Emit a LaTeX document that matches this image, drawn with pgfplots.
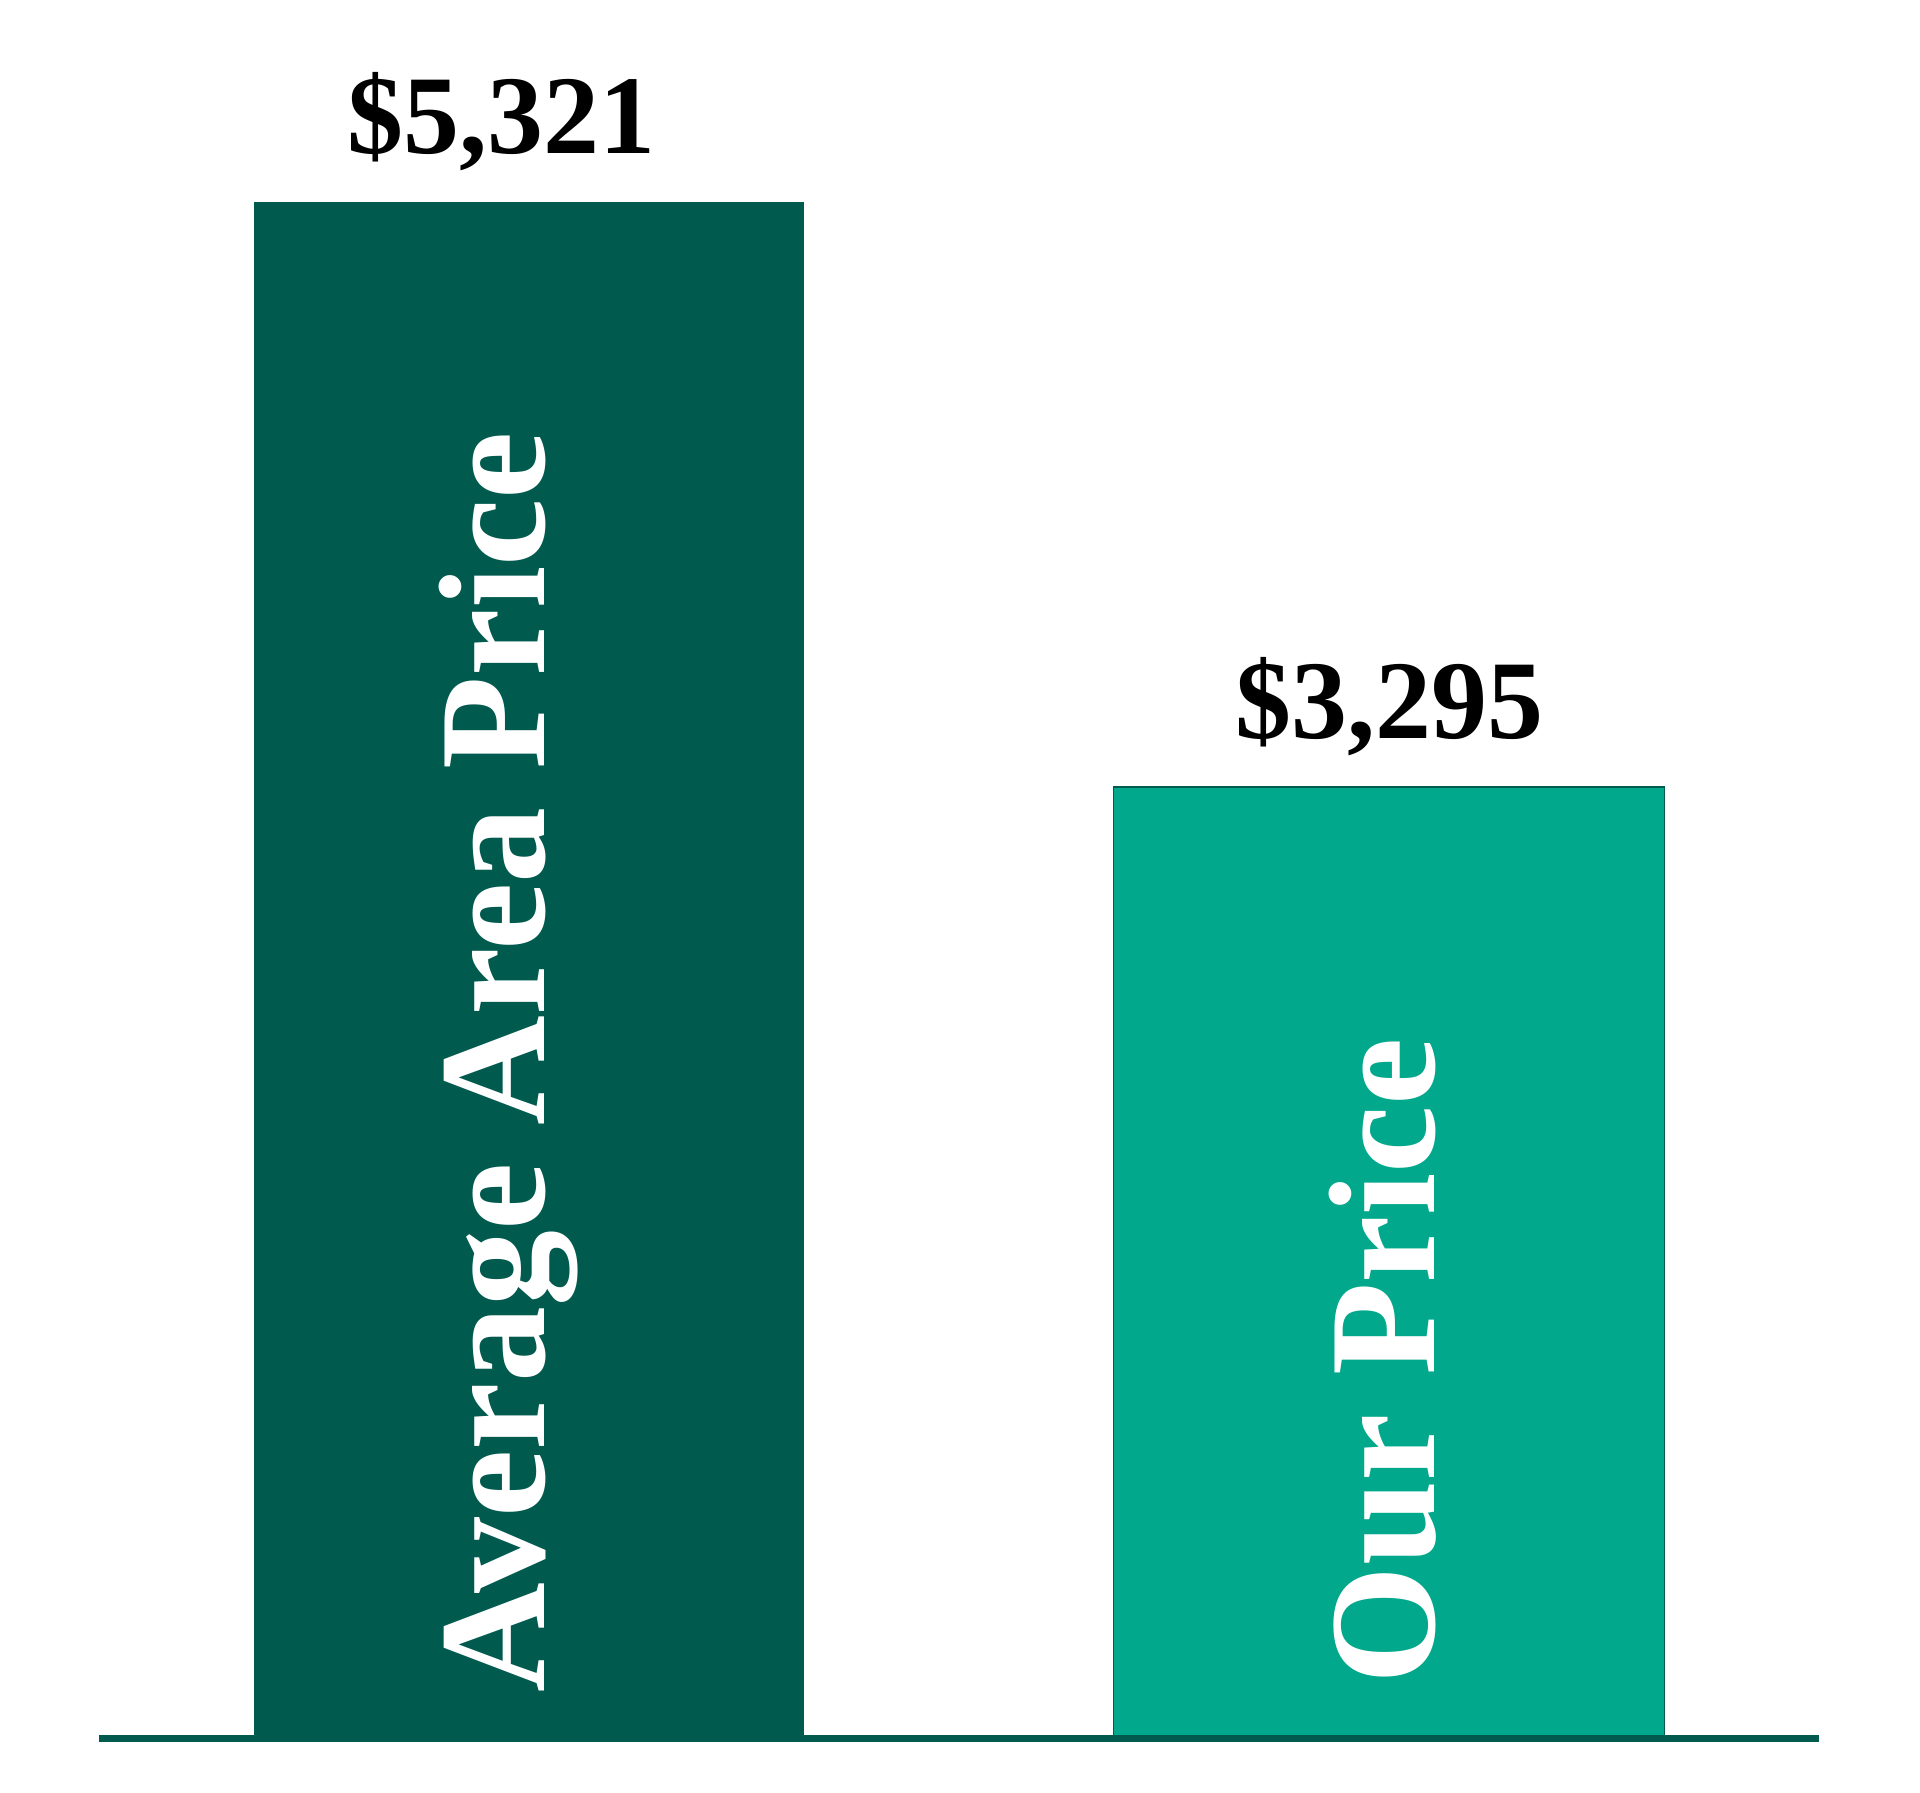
\documentclass[border=0pt]{standalone}
\usepackage{fontspec}
\setmainfont{Liberation Serif}
\usepackage{pgfplots}
\pgfplotsset{compat=1.18}
\definecolor{darkgreen}{HTML}{005A4E}
\definecolor{tealgreen}{HTML}{02A88C}
\begin{document}
\begin{tikzpicture}
\useasboundingbox (-24.75pt,-13.4pt) rectangle (455.25pt,434.6pt);
\begin{axis}[
    at={(0,0)}, anchor=south west,
    scale only axis,
    width=430pt, height=434.6pt,
    xmin=-0.5, xmax=1.5,
    ymin=0, ymax=6020,
    axis x line=bottom,
    axis y line=none,
    x axis line style={-, draw=darkgreen, line width=1.6pt},
    xtick=\empty, ytick=\empty,
    axis on top,
    ybar, bar width=0.64, bar shift=0pt,
    nodes near coords,
    point meta=explicit symbolic,
    every node near coord/.append style={anchor=south, inner sep=0pt, yshift=7.5pt,
        font=\fontsize{28}{32}\selectfont\bfseries, text=black},
    clip=false,
]
\addplot[fill=darkgreen, draw=none,
    every node near coord/.append style={xshift=-7pt}]
    coordinates {(0,5321) [\$5,321]};
\addplot[fill=tealgreen, draw=darkgreen, line width=0.3pt]
    coordinates {(1,3295) [\$3,295]};

\node[rotate=90, anchor=base west, inner sep=0pt, text=white,
      font=\fontsize{38}{44}\selectfont\bfseries]
      at ([xshift=3.75pt, yshift=11.4pt]axis cs:0,0) {Average Area Price};
\node[rotate=90, anchor=base west, inner sep=0pt, text=white,
      font=\fontsize{38}{44}\selectfont\bfseries]
      at ([xshift=11.25pt, yshift=13.4pt]axis cs:1,0) {Our Price};
\end{axis}
\end{tikzpicture}
\end{document}
